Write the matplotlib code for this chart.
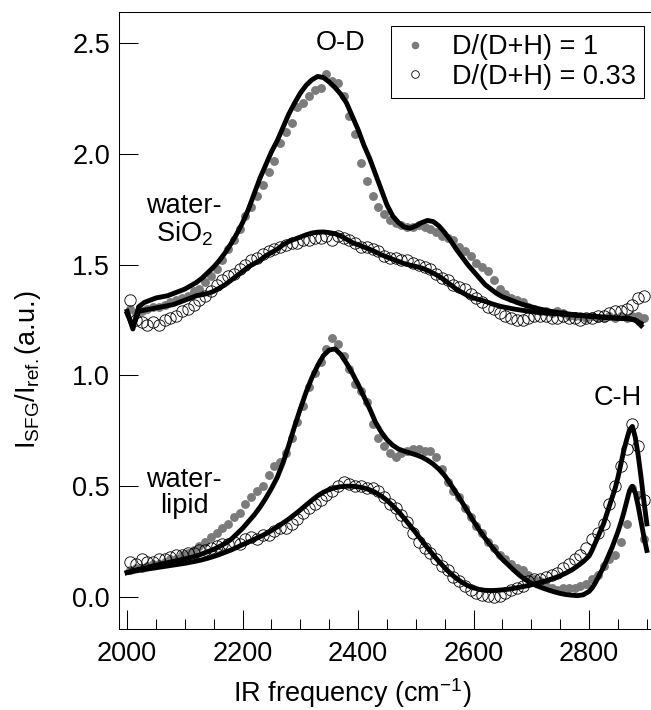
"""SFG spectra of D2O/H2O mixtures at SiO2 and lipid interfaces."""
import numpy as np
import matplotlib
matplotlib.use('Agg')
import matplotlib.pyplot as plt
from matplotlib.lines import Line2D
from matplotlib.ticker import MultipleLocator

plt.rcParams['font.family'] = ['Liberation Sans', 'DejaVu Sans']
plt.rcParams['mathtext.default'] = 'regular'

# measured points, one every 10 cm-1
scan_x = np.arange(2005, 2900, 10)

pts_sio2_d1 = [
    1.30, 1.28, 1.29, 1.30, 1.31, 1.31, 1.32, 1.33, 1.34, 1.35,
    1.36, 1.38, 1.39, 1.42, 1.45, 1.48, 1.52, 1.57, 1.61, 1.66,
    1.72, 1.76, 1.81, 1.86, 1.92, 1.97, 2.05, 2.10, 2.14, 2.21,
    2.23, 2.26, 2.29, 2.30, 2.36, 2.33, 2.32, 2.26, 2.17, 2.09,
    1.96, 1.88, 1.81, 1.76, 1.73, 1.70, 1.69, 1.68, 1.67, 1.67,
    1.68, 1.67, 1.66, 1.65, 1.63, 1.62, 1.61, 1.58, 1.56, 1.54,
    1.51, 1.49, 1.47, 1.43, 1.39, 1.37, 1.35, 1.34, 1.33, 1.31,
    1.30, 1.29, 1.29, 1.28, 1.29, 1.28, 1.27, 1.27, 1.27, 1.26,
    1.27, 1.26, 1.26, 1.27, 1.26, 1.27, 1.26, 1.27, 1.27, 1.26,
]
pts_sio2_d033 = [
    1.34, 1.25, 1.24, 1.23, 1.24, 1.23, 1.25, 1.26, 1.27, 1.29,
    1.30, 1.32, 1.34, 1.36, 1.38, 1.41, 1.43, 1.45, 1.46, 1.48,
    1.50, 1.52, 1.53, 1.55, 1.56, 1.57, 1.58, 1.59, 1.60, 1.60,
    1.61, 1.61, 1.62, 1.62, 1.63, 1.61, 1.63, 1.62, 1.61, 1.60,
    1.58, 1.58, 1.57, 1.56, 1.54, 1.53, 1.53, 1.52, 1.52, 1.51,
    1.50, 1.49, 1.48, 1.46, 1.44, 1.43, 1.41, 1.40, 1.39, 1.37,
    1.35, 1.33, 1.31, 1.30, 1.28, 1.27, 1.26, 1.25, 1.25, 1.26,
    1.27, 1.27, 1.27, 1.26, 1.26, 1.27, 1.26, 1.26, 1.25, 1.26,
    1.26, 1.27, 1.27, 1.28, 1.29, 1.29, 1.30, 1.32, 1.35, 1.36,
]
pts_lipid_d1 = [
    0.12, 0.13, 0.13, 0.14, 0.15, 0.15, 0.16, 0.17, 0.17, 0.19,
    0.20, 0.21, 0.23, 0.25, 0.27, 0.29, 0.31, 0.33, 0.36, 0.38,
    0.42, 0.45, 0.48, 0.50, 0.55, 0.59, 0.61, 0.65, 0.72, 0.79,
    0.86, 0.95, 1.01, 1.06, 1.12, 1.17, 1.14, 1.09, 1.03, 0.96,
    0.93, 0.88, 0.78, 0.72, 0.68, 0.65, 0.63, 0.65, 0.66, 0.67,
    0.67, 0.66, 0.66, 0.63, 0.58, 0.52, 0.48, 0.45, 0.40, 0.36,
    0.32, 0.29, 0.25, 0.22, 0.19, 0.17, 0.15, 0.13, 0.12, 0.10,
    0.08, 0.07, 0.05, 0.04, 0.03, 0.04, 0.04, 0.04, 0.05, 0.06,
    0.08, 0.10, 0.14, 0.17, 0.19, 0.25, 0.33, 0.49, 0.46, 0.26,
]
pts_lipid_d033 = [
    0.16, 0.15, 0.17, 0.16, 0.16, 0.17, 0.17, 0.18, 0.19, 0.19,
    0.20, 0.20, 0.21, 0.21, 0.22, 0.23, 0.24, 0.24, 0.25, 0.24,
    0.26, 0.27, 0.26, 0.28, 0.28, 0.30, 0.31, 0.31, 0.33, 0.35,
    0.38, 0.40, 0.42, 0.44, 0.46, 0.48, 0.50, 0.52, 0.51, 0.50,
    0.50, 0.49, 0.49, 0.48, 0.45, 0.42, 0.40, 0.37, 0.34, 0.29,
    0.25, 0.22, 0.20, 0.17, 0.14, 0.12, 0.09, 0.07, 0.05, 0.03,
    0.02, 0.01, 0.005, 0.0, 0.005, 0.02, 0.03, 0.04, 0.05, 0.07,
    0.08, 0.08, 0.09, 0.10, 0.11, 0.13, 0.15, 0.17, 0.19, 0.22,
    0.26, 0.29, 0.33, 0.42, 0.50, 0.59, 0.67, 0.78, 0.68, 0.44,
]

# fitted curves
fit_x_sio2 = np.arange(2000, 2891, 10)
fit_sio2_d1 = [
    1.29, 1.21, 1.31, 1.33, 1.34, 1.35, 1.355, 1.36, 1.37, 1.38,
    1.39, 1.405, 1.42, 1.44, 1.465, 1.49, 1.52, 1.555, 1.595, 1.64,
    1.69, 1.75, 1.82, 1.89, 1.95, 2.01, 2.06, 2.12, 2.18, 2.23,
    2.275, 2.31, 2.335, 2.35, 2.345, 2.325, 2.30, 2.27, 2.23, 2.17,
    2.11, 2.04, 1.98, 1.91, 1.84, 1.77, 1.72, 1.69, 1.67, 1.665,
    1.675, 1.69, 1.70, 1.695, 1.675, 1.645, 1.61, 1.57, 1.535, 1.50,
    1.47, 1.44, 1.41, 1.39, 1.37, 1.355, 1.345, 1.335, 1.325, 1.317,
    1.31, 1.303, 1.297, 1.291, 1.287, 1.283, 1.279, 1.276, 1.273, 1.27,
    1.268, 1.266, 1.264, 1.262, 1.26, 1.258, 1.257, 1.255, 1.25, 1.225,
]
fit_sio2_d033 = [
    1.28, 1.22, 1.29, 1.295, 1.30, 1.305, 1.31, 1.315, 1.32, 1.33,
    1.34, 1.35, 1.36, 1.365, 1.37, 1.38, 1.395, 1.41, 1.43, 1.45,
    1.47, 1.49, 1.505, 1.52, 1.54, 1.555, 1.57, 1.59, 1.605, 1.615,
    1.625, 1.635, 1.643, 1.647, 1.648, 1.645, 1.64, 1.63, 1.615, 1.60,
    1.59, 1.58, 1.57, 1.558, 1.545, 1.535, 1.525, 1.515, 1.505, 1.498,
    1.492, 1.485, 1.475, 1.462, 1.448, 1.43, 1.41, 1.39, 1.375, 1.36,
    1.35, 1.342, 1.335, 1.325, 1.317, 1.31, 1.305, 1.30, 1.296, 1.292,
    1.288, 1.285, 1.283, 1.281, 1.279, 1.277, 1.275, 1.273, 1.271, 1.27,
    1.268, 1.266, 1.264, 1.262, 1.26, 1.259, 1.258, 1.257, 1.25, 1.235,
]

fit_x_lipid = np.concatenate([np.arange(2000, 2800, 10), np.arange(2800, 2901, 5)])
fit_lipid_d1 = [
    0.11, 0.118, 0.125, 0.13, 0.137, 0.143, 0.15, 0.155, 0.16, 0.166,
    0.172, 0.178, 0.185, 0.195, 0.205, 0.215, 0.228, 0.242, 0.26, 0.285,
    0.31, 0.34, 0.37, 0.405, 0.445, 0.49, 0.54, 0.605, 0.685, 0.77,
    0.85, 0.925, 0.99, 1.045, 1.09, 1.115, 1.12, 1.095, 1.055, 1.01,
    0.96, 0.905, 0.85, 0.79, 0.745, 0.71, 0.685, 0.668, 0.658, 0.65,
    0.642, 0.632, 0.618, 0.6, 0.577, 0.548, 0.51, 0.47, 0.428, 0.385,
    0.342, 0.302, 0.265, 0.232, 0.2, 0.17, 0.145, 0.12, 0.097, 0.078,
    0.062, 0.05, 0.04, 0.031, 0.023, 0.016, 0.011, 0.008, 0.006, 0.01,
    0.025, 0.04, 0.06, 0.085, 0.11, 0.135, 0.165, 0.195, 0.225, 0.26,
    0.295, 0.335, 0.38, 0.43, 0.48, 0.50, 0.47, 0.41, 0.34, 0.27, 0.21,
]
fit_lipid_d033 = [
    0.11, 0.115, 0.12, 0.124, 0.128, 0.132, 0.136, 0.14, 0.144, 0.148,
    0.152, 0.157, 0.162, 0.168, 0.175, 0.183, 0.192, 0.202, 0.212, 0.224,
    0.236, 0.248, 0.26, 0.272, 0.285, 0.3, 0.316, 0.334, 0.352, 0.372,
    0.393, 0.415, 0.437, 0.457, 0.473, 0.485, 0.493, 0.498, 0.5, 0.5,
    0.497, 0.492, 0.484, 0.472, 0.456, 0.436, 0.412, 0.385, 0.355, 0.322,
    0.29, 0.255, 0.222, 0.19, 0.16, 0.132, 0.106, 0.084, 0.066, 0.051,
    0.041, 0.034, 0.03, 0.029, 0.03, 0.032, 0.035, 0.039, 0.044, 0.049,
    0.055, 0.062, 0.069, 0.077, 0.086, 0.096, 0.108, 0.122, 0.14, 0.16,
    0.185, 0.21, 0.24, 0.27, 0.3, 0.33, 0.37, 0.41, 0.45, 0.49,
    0.54, 0.6, 0.66, 0.71, 0.755, 0.77, 0.72, 0.64, 0.54, 0.43, 0.33,
]

labels = ['D/(D+H) = 1', 'D/(D+H) = 0.33']


def main():
    gray = '#7b7b7b'
    fs = 19.5

    fig = plt.figure(figsize=(6.51, 7.10), dpi=100)
    ax = fig.add_axes([0.1828, 0.1141, 0.8157, 0.8690])

    for y in (pts_sio2_d1, pts_lipid_d1):
        ax.plot(scan_x, y, 'o', ms=6.4, color=gray, mec='none', zorder=2)
    for y in (pts_sio2_d033, pts_lipid_d033):
        ax.plot(scan_x, y, 'o', ms=8.2, mfc='none', mec='black', mew=0.6, zorder=2)

    ax.plot(fit_x_sio2, fit_sio2_d1, color='black', lw=3.5, zorder=3)
    ax.plot(fit_x_sio2, fit_sio2_d033, color='black', lw=3.5, zorder=3)
    ax.plot(fit_x_lipid, fit_lipid_d1, color='black', lw=3.5, zorder=3)
    ax.plot(fit_x_lipid, fit_lipid_d033, color='black', lw=3.5, zorder=3)

    ax.set_xlim(1986, 2905.5)
    ax.set_ylim(-0.1445, 2.641)
    ax.xaxis.set_major_locator(MultipleLocator(200))
    ax.xaxis.set_minor_locator(MultipleLocator(50))
    ax.yaxis.set_major_locator(MultipleLocator(0.5))
    ax.tick_params(which='major', direction='in', length=13.5, width=0.75, labelsize=fs)
    ax.tick_params(which='minor', direction='in', length=7, width=0.75)
    ax.tick_params(axis='x', which='major', pad=9)
    ax.tick_params(axis='y', which='major', pad=6.5)
    ax.spines['right'].set_visible(False)
    for s in ('left', 'top', 'bottom'):
        ax.spines[s].set_linewidth(0.75)

    ax.set_xlabel('IR frequency (cm$^{-1}$)', fontsize=fs)
    ax.set_ylabel('I$_{SFG}$/I$_{ref.}$(a.u.)', fontsize=fs)
    ax.xaxis.set_label_coords(0.439, -0.076)
    ax.yaxis.set_label_coords(-0.143, 0.42)

    ax.text(2369, 2.50, 'O-D', ha='center', va='center', fontsize=fs)
    ax.text(2099, 1.70, 'water-\nSiO$_2$', ha='center', va='center', fontsize=fs, linespacing=1.0)
    ax.text(2099, 0.47, 'water-\nlipid', ha='center', va='center', fontsize=fs, linespacing=1.0)
    ax.text(2850, 0.90, 'C-H', ha='center', va='center', fontsize=fs)

    handles = [
        Line2D([], [], ls='none', marker='o', ms=5.5, color=gray, mec='none'),
        Line2D([], [], ls='none', marker='o', ms=5.5, mfc='none', mec='black', mew=0.6),
    ]
    leg = ax.legend(handles, labels, loc='upper right', bbox_to_anchor=(0.9887, 0.977),
                    borderaxespad=0, fontsize=fs, handlelength=1.2, handletextpad=0.75,
                    borderpad=0.3, labelspacing=0.12, fancybox=False, framealpha=1,
                    edgecolor='black')
    leg.get_frame().set_linewidth(0.75)

    fig.savefig('out.png', dpi=100)


if __name__ == "__main__":
    main()
